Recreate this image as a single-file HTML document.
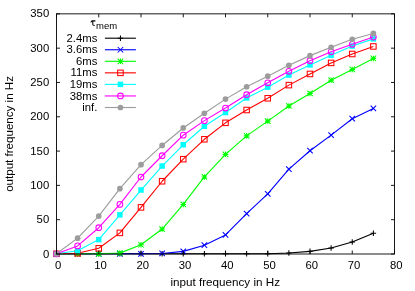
<!DOCTYPE html><html><head><meta charset="utf-8"><style>html,body{margin:0;padding:0;background:#fff;overflow:hidden}svg{display:block;will-change:transform}text{font-family:"Liberation Sans",sans-serif;font-size:11.3px;fill:#000}</style></head><body>
<svg width="415" height="291" viewBox="0 0 415 291">
<rect width="415" height="291" fill="#fff"/>
<text x="49.2" y="257.60" text-anchor="end">0</text>
<text x="49.2" y="223.29" text-anchor="end">50</text>
<text x="49.2" y="188.99" text-anchor="end">100</text>
<text x="49.2" y="154.68" text-anchor="end">150</text>
<text x="49.2" y="120.37" text-anchor="end">200</text>
<text x="49.2" y="86.06" text-anchor="end">250</text>
<text x="49.2" y="51.76" text-anchor="end">300</text>
<text x="49.2" y="17.45" text-anchor="end">350</text>
<text x="58.20" y="268.90" text-anchor="middle">0</text>
<text x="100.45" y="268.90" text-anchor="middle">10</text>
<text x="142.70" y="268.90" text-anchor="middle">20</text>
<text x="184.95" y="268.90" text-anchor="middle">30</text>
<text x="227.20" y="268.90" text-anchor="middle">40</text>
<text x="269.45" y="268.90" text-anchor="middle">50</text>
<text x="311.70" y="268.90" text-anchor="middle">60</text>
<text x="353.95" y="268.90" text-anchor="middle">70</text>
<text x="396.20" y="268.90" text-anchor="middle">80</text>
<text x="170.4" y="286.1" textLength="109.6" lengthAdjust="spacingAndGlyphs">input frequency in Hz</text>
<text transform="translate(12.6 191.85) rotate(-90)" textLength="115.8" lengthAdjust="spacingAndGlyphs">output frequency in Hz</text>
<path d="M90.9 22.3Q91.3 20.85 92.4 20.85H95.4M92.8 20.9V24.1Q92.8 25.6 94.7 25.45" stroke="#000" stroke-width="1.05" fill="none"/>
<text x="96.0" y="29.3" style="font-size:9.5px">mem</text>
<text x="97.3" y="41.80" text-anchor="end">2.4ms</text>
<text x="97.3" y="53.35" text-anchor="end">3.6ms</text>
<text x="97.3" y="64.90" text-anchor="end">6ms</text>
<text x="97.3" y="76.45" text-anchor="end">11ms</text>
<text x="97.3" y="88.00" text-anchor="end">19ms</text>
<text x="97.3" y="99.55" text-anchor="end">38ms</text>
<text x="97.3" y="111.10" text-anchor="end">inf.</text>
<polyline points="56.50,253.80 77.62,253.80 98.75,253.80 119.88,253.80 141.00,253.80 162.12,253.80 183.25,253.80 204.38,253.80 225.50,253.80 246.62,253.80 267.75,253.80 288.88,252.98 310.00,251.33 331.12,247.97 352.25,241.94 373.38,233.16" fill="none" stroke="#000000" stroke-width="1.12" stroke-linejoin="round"/>
<path d="M104.9 38.20H135.9" stroke="#000000" stroke-width="1.12" fill="none"/>
<path d="M117.70 38.20H123.20M120.45 35.45V40.95" stroke="#000000" stroke-width="1.05" fill="none"/>
<path d="M53.75 253.80H59.25M56.50 251.05V256.55" stroke="#000000" stroke-width="1.05" fill="none"/>
<path d="M74.88 253.80H80.38M77.62 251.05V256.55" stroke="#000000" stroke-width="1.05" fill="none"/>
<path d="M96.00 253.80H101.50M98.75 251.05V256.55" stroke="#000000" stroke-width="1.05" fill="none"/>
<path d="M117.12 253.80H122.62M119.88 251.05V256.55" stroke="#000000" stroke-width="1.05" fill="none"/>
<path d="M138.25 253.80H143.75M141.00 251.05V256.55" stroke="#000000" stroke-width="1.05" fill="none"/>
<path d="M159.38 253.80H164.88M162.12 251.05V256.55" stroke="#000000" stroke-width="1.05" fill="none"/>
<path d="M180.50 253.80H186.00M183.25 251.05V256.55" stroke="#000000" stroke-width="1.05" fill="none"/>
<path d="M201.62 253.80H207.12M204.38 251.05V256.55" stroke="#000000" stroke-width="1.05" fill="none"/>
<path d="M222.75 253.80H228.25M225.50 251.05V256.55" stroke="#000000" stroke-width="1.05" fill="none"/>
<path d="M243.88 253.80H249.38M246.62 251.05V256.55" stroke="#000000" stroke-width="1.05" fill="none"/>
<path d="M265.00 253.80H270.50M267.75 251.05V256.55" stroke="#000000" stroke-width="1.05" fill="none"/>
<path d="M286.12 252.98H291.62M288.88 250.23V255.73" stroke="#000000" stroke-width="1.05" fill="none"/>
<path d="M307.25 251.33H312.75M310.00 248.58V254.08" stroke="#000000" stroke-width="1.05" fill="none"/>
<path d="M328.38 247.97H333.88M331.12 245.22V250.72" stroke="#000000" stroke-width="1.05" fill="none"/>
<path d="M349.50 241.94H355.00M352.25 239.19V244.69" stroke="#000000" stroke-width="1.05" fill="none"/>
<path d="M370.62 233.16H376.12M373.38 230.41V235.91" stroke="#000000" stroke-width="1.05" fill="none"/>
<polyline points="56.50,253.80 77.62,253.80 98.75,253.80 119.88,253.80 141.00,253.80 162.12,253.46 183.25,251.40 204.38,245.23 225.50,234.94 246.62,213.69 267.75,193.94 288.88,169.12 310.00,150.74 331.12,135.11 352.25,118.72 373.38,108.43" fill="none" stroke="#0000ff" stroke-width="1.12" stroke-linejoin="round"/>
<path d="M104.9 49.75H135.9" stroke="#0000ff" stroke-width="1.12" fill="none"/>
<path d="M117.70 47.00L123.20 52.50M117.70 52.50L123.20 47.00" stroke="#0000ff" stroke-width="1.05" fill="none"/>
<path d="M53.75 251.05L59.25 256.55M53.75 256.55L59.25 251.05" stroke="#0000ff" stroke-width="1.05" fill="none"/>
<path d="M74.88 251.05L80.38 256.55M74.88 256.55L80.38 251.05" stroke="#0000ff" stroke-width="1.05" fill="none"/>
<path d="M96.00 251.05L101.50 256.55M96.00 256.55L101.50 251.05" stroke="#0000ff" stroke-width="1.05" fill="none"/>
<path d="M117.12 251.05L122.62 256.55M117.12 256.55L122.62 251.05" stroke="#0000ff" stroke-width="1.05" fill="none"/>
<path d="M138.25 251.05L143.75 256.55M138.25 256.55L143.75 251.05" stroke="#0000ff" stroke-width="1.05" fill="none"/>
<path d="M159.38 250.71L164.88 256.21M159.38 256.21L164.88 250.71" stroke="#0000ff" stroke-width="1.05" fill="none"/>
<path d="M180.50 248.65L186.00 254.15M180.50 254.15L186.00 248.65" stroke="#0000ff" stroke-width="1.05" fill="none"/>
<path d="M201.62 242.48L207.12 247.98M201.62 247.98L207.12 242.48" stroke="#0000ff" stroke-width="1.05" fill="none"/>
<path d="M222.75 232.19L228.25 237.69M222.75 237.69L228.25 232.19" stroke="#0000ff" stroke-width="1.05" fill="none"/>
<path d="M243.88 210.94L249.38 216.44M243.88 216.44L249.38 210.94" stroke="#0000ff" stroke-width="1.05" fill="none"/>
<path d="M265.00 191.19L270.50 196.69M265.00 196.69L270.50 191.19" stroke="#0000ff" stroke-width="1.05" fill="none"/>
<path d="M286.12 166.37L291.62 171.87M286.12 171.87L291.62 166.37" stroke="#0000ff" stroke-width="1.05" fill="none"/>
<path d="M307.25 147.99L312.75 153.49M307.25 153.49L312.75 147.99" stroke="#0000ff" stroke-width="1.05" fill="none"/>
<path d="M328.38 132.36L333.88 137.86M328.38 137.86L333.88 132.36" stroke="#0000ff" stroke-width="1.05" fill="none"/>
<path d="M349.50 115.97L355.00 121.47M349.50 121.47L355.00 115.97" stroke="#0000ff" stroke-width="1.05" fill="none"/>
<path d="M370.62 105.68L376.12 111.18M370.62 111.18L376.12 105.68" stroke="#0000ff" stroke-width="1.05" fill="none"/>
<polyline points="56.50,253.80 77.62,253.80 98.75,253.80 119.88,253.11 141.00,244.75 162.12,229.05 183.25,204.43 204.38,176.93 225.50,154.37 246.62,135.86 267.75,121.12 288.88,105.96 310.00,93.41 331.12,80.18 352.25,69.48 373.38,58.38" fill="none" stroke="#00ff00" stroke-width="1.12" stroke-linejoin="round"/>
<path d="M104.9 61.30H135.9" stroke="#00ff00" stroke-width="1.12" fill="none"/>
<path d="M117.70 61.30H123.20M120.45 58.55V64.05M117.70 58.55L123.20 64.05M117.70 64.05L123.20 58.55" stroke="#00ff00" stroke-width="1.05" fill="none"/>
<path d="M53.75 253.80H59.25M56.50 251.05V256.55M53.75 251.05L59.25 256.55M53.75 256.55L59.25 251.05" stroke="#00ff00" stroke-width="1.05" fill="none"/>
<path d="M74.88 253.80H80.38M77.62 251.05V256.55M74.88 251.05L80.38 256.55M74.88 256.55L80.38 251.05" stroke="#00ff00" stroke-width="1.05" fill="none"/>
<path d="M96.00 253.80H101.50M98.75 251.05V256.55M96.00 251.05L101.50 256.55M96.00 256.55L101.50 251.05" stroke="#00ff00" stroke-width="1.05" fill="none"/>
<path d="M117.12 253.11H122.62M119.88 250.36V255.86M117.12 250.36L122.62 255.86M117.12 255.86L122.62 250.36" stroke="#00ff00" stroke-width="1.05" fill="none"/>
<path d="M138.25 244.75H143.75M141.00 242.00V247.50M138.25 242.00L143.75 247.50M138.25 247.50L143.75 242.00" stroke="#00ff00" stroke-width="1.05" fill="none"/>
<path d="M159.38 229.05H164.88M162.12 226.30V231.80M159.38 226.30L164.88 231.80M159.38 231.80L164.88 226.30" stroke="#00ff00" stroke-width="1.05" fill="none"/>
<path d="M180.50 204.43H186.00M183.25 201.68V207.18M180.50 201.68L186.00 207.18M180.50 207.18L186.00 201.68" stroke="#00ff00" stroke-width="1.05" fill="none"/>
<path d="M201.62 176.93H207.12M204.38 174.18V179.68M201.62 174.18L207.12 179.68M201.62 179.68L207.12 174.18" stroke="#00ff00" stroke-width="1.05" fill="none"/>
<path d="M222.75 154.37H228.25M225.50 151.62V157.12M222.75 151.62L228.25 157.12M222.75 157.12L228.25 151.62" stroke="#00ff00" stroke-width="1.05" fill="none"/>
<path d="M243.88 135.86H249.38M246.62 133.11V138.61M243.88 133.11L249.38 138.61M243.88 138.61L249.38 133.11" stroke="#00ff00" stroke-width="1.05" fill="none"/>
<path d="M265.00 121.12H270.50M267.75 118.37V123.87M265.00 118.37L270.50 123.87M265.00 123.87L270.50 118.37" stroke="#00ff00" stroke-width="1.05" fill="none"/>
<path d="M286.12 105.96H291.62M288.88 103.21V108.71M286.12 103.21L291.62 108.71M286.12 108.71L291.62 103.21" stroke="#00ff00" stroke-width="1.05" fill="none"/>
<path d="M307.25 93.41H312.75M310.00 90.66V96.16M307.25 90.66L312.75 96.16M307.25 96.16L312.75 90.66" stroke="#00ff00" stroke-width="1.05" fill="none"/>
<path d="M328.38 80.18H333.88M331.12 77.43V82.93M328.38 77.43L333.88 82.93M328.38 82.93L333.88 77.43" stroke="#00ff00" stroke-width="1.05" fill="none"/>
<path d="M349.50 69.48H355.00M352.25 66.73V72.23M349.50 66.73L355.00 72.23M349.50 72.23L355.00 66.73" stroke="#00ff00" stroke-width="1.05" fill="none"/>
<path d="M370.62 58.38H376.12M373.38 55.63V61.13M370.62 55.63L376.12 61.13M370.62 61.13L376.12 55.63" stroke="#00ff00" stroke-width="1.05" fill="none"/>
<polyline points="56.50,253.80 77.62,253.25 98.75,248.31 119.88,232.89 141.00,207.38 162.12,181.25 183.25,159.17 204.38,139.29 225.50,122.83 246.62,110.01 267.75,98.28 288.88,85.12 310.00,73.94 331.12,62.90 352.25,53.99 373.38,46.44" fill="none" stroke="#ff0000" stroke-width="1.12" stroke-linejoin="round"/>
<path d="M104.9 72.85H135.9" stroke="#ff0000" stroke-width="1.12" fill="none"/>
<rect x="117.70" y="70.10" width="5.5" height="5.5" stroke="#ff0000" stroke-width="1.05" fill="none"/>
<rect x="53.75" y="251.05" width="5.5" height="5.5" stroke="#ff0000" stroke-width="1.05" fill="none"/>
<rect x="74.88" y="250.50" width="5.5" height="5.5" stroke="#ff0000" stroke-width="1.05" fill="none"/>
<rect x="96.00" y="245.56" width="5.5" height="5.5" stroke="#ff0000" stroke-width="1.05" fill="none"/>
<rect x="117.12" y="230.14" width="5.5" height="5.5" stroke="#ff0000" stroke-width="1.05" fill="none"/>
<rect x="138.25" y="204.63" width="5.5" height="5.5" stroke="#ff0000" stroke-width="1.05" fill="none"/>
<rect x="159.38" y="178.50" width="5.5" height="5.5" stroke="#ff0000" stroke-width="1.05" fill="none"/>
<rect x="180.50" y="156.42" width="5.5" height="5.5" stroke="#ff0000" stroke-width="1.05" fill="none"/>
<rect x="201.62" y="136.54" width="5.5" height="5.5" stroke="#ff0000" stroke-width="1.05" fill="none"/>
<rect x="222.75" y="120.08" width="5.5" height="5.5" stroke="#ff0000" stroke-width="1.05" fill="none"/>
<rect x="243.88" y="107.26" width="5.5" height="5.5" stroke="#ff0000" stroke-width="1.05" fill="none"/>
<rect x="265.00" y="95.53" width="5.5" height="5.5" stroke="#ff0000" stroke-width="1.05" fill="none"/>
<rect x="286.12" y="82.37" width="5.5" height="5.5" stroke="#ff0000" stroke-width="1.05" fill="none"/>
<rect x="307.25" y="71.19" width="5.5" height="5.5" stroke="#ff0000" stroke-width="1.05" fill="none"/>
<rect x="328.38" y="60.15" width="5.5" height="5.5" stroke="#ff0000" stroke-width="1.05" fill="none"/>
<rect x="349.50" y="51.24" width="5.5" height="5.5" stroke="#ff0000" stroke-width="1.05" fill="none"/>
<rect x="370.62" y="43.69" width="5.5" height="5.5" stroke="#ff0000" stroke-width="1.05" fill="none"/>
<polyline points="56.50,253.80 77.62,250.71 98.75,239.61 119.88,214.85 141.00,190.03 162.12,166.03 183.25,144.77 204.38,126.26 225.50,112.55 246.62,97.94 267.75,87.17 288.88,75.04 310.00,64.89 331.12,55.29 352.25,46.03 373.38,38.90" fill="none" stroke="#00ffff" stroke-width="1.12" stroke-linejoin="round"/>
<path d="M104.9 84.40H135.9" stroke="#00ffff" stroke-width="1.12" fill="none"/>
<rect x="117.70" y="81.65" width="5.5" height="5.5" fill="#00ffff"/>
<rect x="53.75" y="251.05" width="5.5" height="5.5" fill="#00ffff"/>
<rect x="74.88" y="247.96" width="5.5" height="5.5" fill="#00ffff"/>
<rect x="96.00" y="236.86" width="5.5" height="5.5" fill="#00ffff"/>
<rect x="117.12" y="212.10" width="5.5" height="5.5" fill="#00ffff"/>
<rect x="138.25" y="187.28" width="5.5" height="5.5" fill="#00ffff"/>
<rect x="159.38" y="163.28" width="5.5" height="5.5" fill="#00ffff"/>
<rect x="180.50" y="142.02" width="5.5" height="5.5" fill="#00ffff"/>
<rect x="201.62" y="123.51" width="5.5" height="5.5" fill="#00ffff"/>
<rect x="222.75" y="109.80" width="5.5" height="5.5" fill="#00ffff"/>
<rect x="243.88" y="95.19" width="5.5" height="5.5" fill="#00ffff"/>
<rect x="265.00" y="84.42" width="5.5" height="5.5" fill="#00ffff"/>
<rect x="286.12" y="72.29" width="5.5" height="5.5" fill="#00ffff"/>
<rect x="307.25" y="62.14" width="5.5" height="5.5" fill="#00ffff"/>
<rect x="328.38" y="52.54" width="5.5" height="5.5" fill="#00ffff"/>
<rect x="349.50" y="43.28" width="5.5" height="5.5" fill="#00ffff"/>
<rect x="370.62" y="36.15" width="5.5" height="5.5" fill="#00ffff"/>
<polyline points="56.50,253.80 77.62,245.91 98.75,227.74 119.88,204.43 141.00,177.00 162.12,155.74 183.25,135.17 204.38,120.64 225.50,108.02 246.62,94.72 267.75,82.79 288.88,71.27 310.00,60.71 331.12,51.79 352.25,44.25 373.38,37.05" fill="none" stroke="#ff00ff" stroke-width="1.12" stroke-linejoin="round"/>
<path d="M104.9 95.95H135.9" stroke="#ff00ff" stroke-width="1.12" fill="none"/>
<circle cx="120.45" cy="95.95" r="2.85" stroke="#ff00ff" stroke-width="1.05" fill="none"/>
<circle cx="56.50" cy="253.80" r="2.85" stroke="#ff00ff" stroke-width="1.05" fill="none"/>
<circle cx="77.62" cy="245.91" r="2.85" stroke="#ff00ff" stroke-width="1.05" fill="none"/>
<circle cx="98.75" cy="227.74" r="2.85" stroke="#ff00ff" stroke-width="1.05" fill="none"/>
<circle cx="119.88" cy="204.43" r="2.85" stroke="#ff00ff" stroke-width="1.05" fill="none"/>
<circle cx="141.00" cy="177.00" r="2.85" stroke="#ff00ff" stroke-width="1.05" fill="none"/>
<circle cx="162.12" cy="155.74" r="2.85" stroke="#ff00ff" stroke-width="1.05" fill="none"/>
<circle cx="183.25" cy="135.17" r="2.85" stroke="#ff00ff" stroke-width="1.05" fill="none"/>
<circle cx="204.38" cy="120.64" r="2.85" stroke="#ff00ff" stroke-width="1.05" fill="none"/>
<circle cx="225.50" cy="108.02" r="2.85" stroke="#ff00ff" stroke-width="1.05" fill="none"/>
<circle cx="246.62" cy="94.72" r="2.85" stroke="#ff00ff" stroke-width="1.05" fill="none"/>
<circle cx="267.75" cy="82.79" r="2.85" stroke="#ff00ff" stroke-width="1.05" fill="none"/>
<circle cx="288.88" cy="71.27" r="2.85" stroke="#ff00ff" stroke-width="1.05" fill="none"/>
<circle cx="310.00" cy="60.71" r="2.85" stroke="#ff00ff" stroke-width="1.05" fill="none"/>
<circle cx="331.12" cy="51.79" r="2.85" stroke="#ff00ff" stroke-width="1.05" fill="none"/>
<circle cx="352.25" cy="44.25" r="2.85" stroke="#ff00ff" stroke-width="1.05" fill="none"/>
<circle cx="373.38" cy="37.05" r="2.85" stroke="#ff00ff" stroke-width="1.05" fill="none"/>
<polyline points="56.50,253.80 77.62,238.17 98.75,216.09 119.88,188.66 141.00,164.66 162.12,145.46 183.25,127.97 204.38,113.23 225.50,99.11 246.62,86.76 267.75,76.20 288.88,65.23 310.00,55.63 331.12,47.34 352.25,39.24 373.38,33.42" fill="none" stroke="#9c9c9c" stroke-width="1.12" stroke-linejoin="round"/>
<path d="M104.9 107.50H135.9" stroke="#9c9c9c" stroke-width="1.12" fill="none"/>
<circle cx="120.45" cy="107.50" r="2.85" fill="#9c9c9c"/>
<circle cx="56.50" cy="253.80" r="2.85" fill="#9c9c9c"/>
<circle cx="77.62" cy="238.17" r="2.85" fill="#9c9c9c"/>
<circle cx="98.75" cy="216.09" r="2.85" fill="#9c9c9c"/>
<circle cx="119.88" cy="188.66" r="2.85" fill="#9c9c9c"/>
<circle cx="141.00" cy="164.66" r="2.85" fill="#9c9c9c"/>
<circle cx="162.12" cy="145.46" r="2.85" fill="#9c9c9c"/>
<circle cx="183.25" cy="127.97" r="2.85" fill="#9c9c9c"/>
<circle cx="204.38" cy="113.23" r="2.85" fill="#9c9c9c"/>
<circle cx="225.50" cy="99.11" r="2.85" fill="#9c9c9c"/>
<circle cx="246.62" cy="86.76" r="2.85" fill="#9c9c9c"/>
<circle cx="267.75" cy="76.20" r="2.85" fill="#9c9c9c"/>
<circle cx="288.88" cy="65.23" r="2.85" fill="#9c9c9c"/>
<circle cx="310.00" cy="55.63" r="2.85" fill="#9c9c9c"/>
<circle cx="331.12" cy="47.34" r="2.85" fill="#9c9c9c"/>
<circle cx="352.25" cy="39.24" r="2.85" fill="#9c9c9c"/>
<circle cx="373.38" cy="33.42" r="2.85" fill="#9c9c9c"/>
<rect x="56.5" y="13.85" width="338.0" height="240.15" fill="none" stroke="#000" stroke-width="0.9"/>
<path d="M56.5 254.00h3.5M394.5 254.00h-3.5M56.5 219.69h3.5M394.5 219.69h-3.5M56.5 185.39h3.5M394.5 185.39h-3.5M56.5 151.08h3.5M394.5 151.08h-3.5M56.5 116.77h3.5M394.5 116.77h-3.5M56.5 82.46h3.5M394.5 82.46h-3.5M56.5 48.16h3.5M394.5 48.16h-3.5M56.5 13.85h3.5M394.5 13.85h-3.5M56.50 254.0v-3.5M56.50 13.85v3.5M98.75 254.0v-3.5M98.75 13.85v3.5M141.00 254.0v-3.5M141.00 13.85v3.5M183.25 254.0v-3.5M183.25 13.85v3.5M225.50 254.0v-3.5M225.50 13.85v3.5M267.75 254.0v-3.5M267.75 13.85v3.5M310.00 254.0v-3.5M310.00 13.85v3.5M352.25 254.0v-3.5M352.25 13.85v3.5M394.50 254.0v-3.5M394.50 13.85v3.5" stroke="#000" stroke-width="0.9" fill="none"/>
</svg></body></html>
